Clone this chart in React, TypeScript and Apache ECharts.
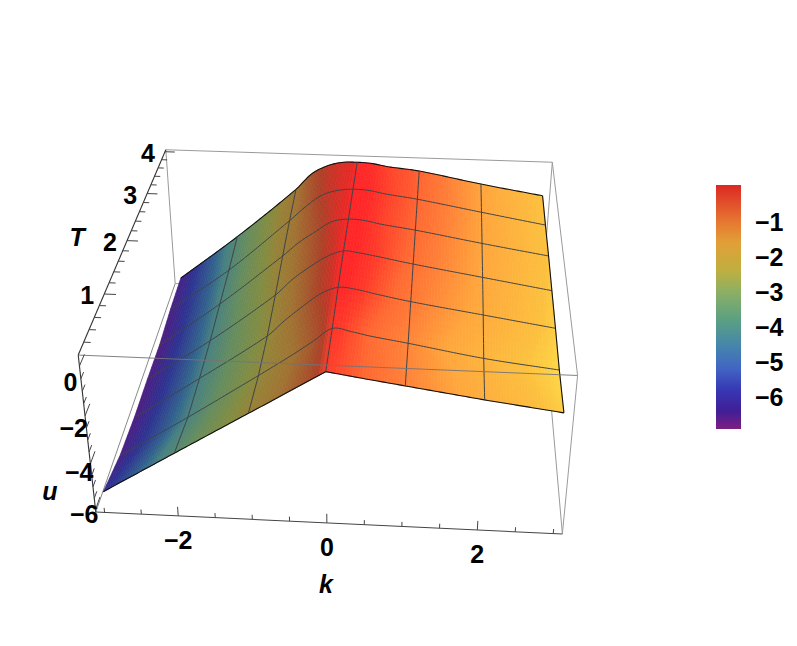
import React, { useEffect, useRef } from "react";
import * as echarts from "echarts";

// ---- data ----
const kGrid = [-3, -2, -1, -0.75, -0.5, -0.25, 0, 0.25, 0.5, 1, 2, 3];
const tGrid = [0.03, 0.7, 1.36, 2.02, 2.68, 3.34, 4];
const uT0 = [-5.28, -3.48, -1.69, -1.25, -0.8, -0.35, 0.1, -0.01, -0.12, -0.33, -0.75, -1.13];
const uT1 = [-5.7, -3.86, -1.94, -1.45, -0.95, -0.42, 0.12, 0.02, -0.13, -0.36, -0.85, -1.2];
const uT2 = [-5.84, -3.93, -1.94, -1.25, -0.64, -0.08, 0.23, 0.17, 0.02, -0.25, -0.69, -1.13];
const uT3 = [-5.84, -3.91, -1.74, -1.04, -0.48, 0.0, 0.28, 0.21, 0.09, -0.17, -0.63, -1.09];
const uT4 = [-5.89, -3.8, -1.48, -0.85, -0.35, 0.12, 0.26, 0.22, 0.08, -0.12, -0.6, -1.05];
const uT5 = [-5.74, -3.7, -1.27, -0.62, -0.08, 0.18, 0.26, 0.23, 0.1, -0.09, -0.58, -1.06];
const uT6 = [-5.69, -3.51, -1.13, -0.4, 0.0, 0.2, 0.23, 0.19, 0.07, -0.08, -0.59, -1.04];
const uRows = [uT0, uT1, uT2, uT3, uT4, uT5, uT6];
const meshK = [-2, -1, 0, 1, 2];
const kTicks = [-3, -2.5, -2, -1.5, -1, -0.5, 0, 0.5, 1, 1.5, 2, 2.5, 3];
const kLabels = [-2, 0, 2];
const tTicks = [0.2, 0.4, 0.6, 0.8, 1, 1.2, 1.4, 1.6, 1.8, 2, 2.2, 2.4, 2.6, 2.8, 3, 3.2, 3.4, 3.6, 3.8, 4];
const tLabels = [1, 2, 3, 4];
const uTicks = [0, -0.5, -1, -1.5, -2, -2.5, -3, -3.5, -4, -4.5, -5, -5.5, -6];
const uLabels = [0, -2, -4, -6];
const legendMajor = [-6, -5, -4, -3, -2, -1];
const legendMinor = [-6.8, -6.6, -6.4, -6.2, -6, -5.8, -5.6, -5.4, -5.2, -5, -4.8, -4.6, -4.4, -4.2, -4, -3.8, -3.6, -3.4, -3.2, -3, -2.8, -2.6, -2.4, -2.2, -2, -1.8, -1.6, -1.4, -1.2, -1, -0.8, -0.6, -0.4, -0.2, 0];
const legendStops: [number, string][] = [[0.06, "#dc2823"], [-1, "#e67832"], [-1.6, "#e1a037"], [-2.4, "#beaf41"], [-3, "#8caf64"], [-3.8, "#5aa082"], [-4.5, "#4687aa"], [-5.2, "#4164c3"], [-5.8, "#3737b4"], [-6.4, "#411e96"], [-6.91, "#7d1e82"]];
// surface colour ramps (u, r, g, b)
const leftRamp = [[-5.9, 80, 26, 128], [-5.1, 45, 50, 145], [-4.3, 50, 100, 140], [-3.9, 70, 128, 130], [-3.1, 100, 140, 95], [-2.2, 130, 140, 65], [-1.7, 150, 130, 55], [-1, 160, 115, 50], [-0.5, 165, 90, 45], [-0.1, 172, 65, 40], [0.15, 205, 50, 38], [0.28, 235, 40, 38]];
const rightRamp = [[-1.3, 255, 222, 72], [-1.2, 255, 215, 70], [-1.04, 252, 192, 62], [-0.6, 255, 165, 60], [-0.3, 255, 125, 55], [-0.12, 255, 105, 50], [0.1, 255, 60, 42], [0.25, 255, 38, 40], [0.3, 255, 38, 40]];

const box = { kMin: -3.12, kMax: 3.12, tMin: 0, tMax: 4.05, uMin: -6.1, uMax: 0.43 };
const corners: [number, number, number, number, number][] = [
  [box.kMin, box.tMin, box.uMax, 78, 355.5], [box.kMax, box.tMin, box.uMax, 578, 375],
  [box.kMin, box.tMax, box.uMax, 166, 150], [box.kMax, box.tMax, box.uMax, 552, 162],
  [box.kMin, box.tMin, box.uMin, 96, 512], [box.kMax, box.tMin, box.uMin, 562, 534],
  [box.kMin, box.tMax, box.uMin, 175, 283], [box.kMax, box.tMax, box.uMin, 542, 298],
];

// ---- camera fitted to the box's corners ----
const norm = (k: number, T: number, u: number) => [k / 3, T / 2 - 1, (u + 3) / 3];
function solve(A: number[][], b: number[]) {
  const m = A.length;
  const M = A.map((r, i) => [...r, b[i]]);
  for (let i = 0; i < m; i++) {
    let p = i;
    for (let j = i; j < m; j++) if (Math.abs(M[j][i]) > Math.abs(M[p][i])) p = j;
    [M[i], M[p]] = [M[p], M[i]];
    for (let j = 0; j < m; j++) if (j !== i) {
      const f = M[j][i] / M[i][i];
      for (let c = i; c <= m; c++) M[j][c] -= f * M[i][c];
    }
  }
  return M.map((r, i) => r[m] / r[i]);
}
const camera = (() => {
  const rows: number[][] = [], rhs: number[] = [];
  for (const [k, T, u, x, y] of corners) {
    const [a, b, c] = norm(k, T, u);
    const X = x / 400 - 1, Y = y / 300 - 1;
    rows.push([a, b, c, 1, 0, 0, 0, 0, -X * a, -X * b, -X * c]); rhs.push(X);
    rows.push([0, 0, 0, 0, a, b, c, 1, -Y * a, -Y * b, -Y * c]); rhs.push(Y);
  }
  const ATA = Array.from({ length: 11 }, (_, i) => Array.from({ length: 11 }, (_, j) => rows.reduce((s, r) => s + r[i] * r[j], 0)));
  const ATb = Array.from({ length: 11 }, (_, i) => rows.reduce((s, r, q) => s + r[i] * rhs[q], 0));
  return solve(ATA, ATb);
})();
const project = (k: number, T: number, u: number): number[] => {
  const h = camera;
  const [a, b, c] = norm(k, T, u);
  const w = h[8] * a + h[9] * b + h[10] * c + 1;
  return [((h[0] * a + h[1] * b + h[2] * c + h[3]) / w + 1) * 400, ((h[4] * a + h[5] * b + h[6] * c + h[7]) / w + 1) * 300];
};

// ---- lookups in the table ----
const seg = (g: number[], v: number) => {
  let i = 0;
  while (i < g.length - 2 && v > g[i + 1]) i++;
  return [i, (v - g[i]) / (g[i + 1] - g[i])];
};
// Row 0 has a real kink at k = 0, so it is read straight; the other rows are drawn as smooth curves through their values.
const rowAt = (j: number, i: number, s: number) => {
  const r = uRows[j];
  if (j === 0) return r[i] * (1 - s) + r[i + 1] * s;
  const h = kGrid[i + 1] - kGrid[i];
  const a = i === 0 ? (r[1] - r[0]) / (kGrid[1] - kGrid[0]) : (r[i + 1] - r[i - 1]) / (kGrid[i + 1] - kGrid[i - 1]);
  const n = kGrid.length - 1;
  const b = i + 1 === n ? (r[n] - r[n - 1]) / (kGrid[n] - kGrid[n - 1]) : (r[i + 2] - r[i]) / (kGrid[i + 2] - kGrid[i]);
  const s2 = s * s, s3 = s2 * s;
  return (2 * s3 - 3 * s2 + 1) * r[i] + (s3 - 2 * s2 + s) * h * a + (-2 * s3 + 3 * s2) * r[i + 1] + (s3 - s2) * h * b;
};
const uAt = (k: number, T: number) => {
  const [i, s] = seg(kGrid, k);
  const [j, r] = seg(tGrid, T);
  return rowAt(j, i, s) * (1 - r) + rowAt(j + 1, i, s) * r;
};
const ramp = (tbl: number[][], u: number) => {
  if (u <= tbl[0][0]) return tbl[0].slice(1);
  for (let i = 0; i < tbl.length - 1; i++) {
    if (u <= tbl[i + 1][0]) {
      const f = (u - tbl[i][0]) / (tbl[i + 1][0] - tbl[i][0]);
      return [1, 2, 3].map((c) => tbl[i][c] * (1 - f) + tbl[i + 1][c] * f);
    }
  }
  return tbl[tbl.length - 1].slice(1);
};
const colourAt = (k: number, u: number) => {
  const x = Math.min(1, Math.max(0, (k + 0.12) / 0.17));
  const w = x * x * (3 - 2 * x);
  const l = ramp(leftRamp, u), r = ramp(rightRamp, u);
  return `rgb(${[0, 1, 2].map((c) => Math.round(l[c] * (1 - w) + r[c] * w)).join(",")})`;
};
const fineK: number[] = [];
kGrid.slice(0, -1).forEach((k, i) => {
  const d = kGrid[i + 1] - k;
  const n = Math.max(1, Math.round(d / 0.04));
  for (let q = 0; q < n; q++) fineK.push(k + (d * q) / n);
});
fineK.push(kGrid[kGrid.length - 1]);
const fineT: number[] = [];
tGrid.slice(0, -1).forEach((t, i) => {
  for (let q = 0; q < 6; q++) fineT.push(t + ((tGrid[i + 1] - t) * q) / 6);
});
fineT.push(tGrid[tGrid.length - 1]);

type P3 = [number, number, number];
const cells: { pts: P3[]; fill: string }[] = [];
for (let j = fineT.length - 2; j >= 0; j--) {
  for (let i = 0; i < fineK.length - 1; i++) {
    const k0 = fineK[i], k1 = fineK[i + 1], t0 = fineT[j], t1 = fineT[j + 1];
    cells.push({
      pts: [[k0, t0, uAt(k0, t0)], [k1, t0, uAt(k1, t0)], [k1, t1, uAt(k1, t1)], [k0, t1, uAt(k0, t1)]],
      fill: colourAt((k0 + k1) / 2, uAt((k0 + k1) / 2, (t0 + t1) / 2)),
    });
  }
}
type Stroke = { pts: P3[]; color: string; width: number };
const backLines: Stroke[] = [
  { pts: [[box.kMin, box.tMax, box.uMax], [box.kMax, box.tMax, box.uMax]], color: "#9a9a9a", width: 1 },
  { pts: [[box.kMin, box.tMax, box.uMax], [box.kMin, box.tMax, box.uMin]], color: "#9a9a9a", width: 1 },
  { pts: [[box.kMin, box.tMax, box.uMin], [box.kMax, box.tMax, box.uMin]], color: "#9a9a9a", width: 1 },
  { pts: [[box.kMax, box.tMax, box.uMax], [box.kMax, box.tMax, box.uMin]], color: "#9a9a9a", width: 1 },
  { pts: [[box.kMin, box.tMin, box.uMin], [box.kMin, box.tMax, box.uMin]], color: "#8a8a8a", width: 1 },
  { pts: [[box.kMax, box.tMin, box.uMin], [box.kMax, box.tMax, box.uMin]], color: "#9a9a9a", width: 1 },
];
const meshLines: Stroke[] = [];
tGrid.forEach((t, j) => {
  const edge = j === 0 || j === tGrid.length - 1;
  meshLines.push({ pts: fineK.map((k) => [k, t, uAt(k, t)] as P3), color: edge ? "#111" : "#404548", width: edge ? 1.1 : 1 });
});
meshK.forEach((k) => meshLines.push({ pts: fineT.map((t) => [k, t, uAt(k, t)] as P3), color: "#404548", width: 1 }));
meshLines.push({ pts: fineT.map((t) => [3, t, uAt(3, t)] as P3), color: "#111", width: 1.1 });
const frontLines: Stroke[] = [
  { pts: [[box.kMin, box.tMin, box.uMax], [box.kMax, box.tMin, box.uMax]], color: "rgba(115,115,120,0.9)", width: 1 },
  { pts: [[box.kMax, box.tMin, box.uMax], [box.kMax, box.tMax, box.uMax]], color: "#9a9a9a", width: 1 },
  { pts: [[box.kMax, box.tMin, box.uMax], [box.kMax, box.tMin, box.uMin]], color: "#9a9a9a", width: 1 },
  { pts: [[box.kMin, box.tMin, box.uMax], [box.kMin, box.tMax, box.uMax]], color: "#333", width: 1.1 },
  { pts: [[box.kMin, box.tMin, box.uMax], [box.kMin, box.tMin, box.uMin]], color: "#333", width: 1.1 },
  { pts: [[box.kMin, box.tMin, box.uMin], [box.kMax, box.tMin, box.uMin]], color: "#444", width: 1.1 },
];
const tick = (pts: P3[]): Stroke => ({ pts, color: "#444", width: 1 });
kTicks.forEach((k) => frontLines.push(tick([[k, box.tMin, box.uMin], [k, box.tMin, box.uMin + (kLabels.includes(k) ? 0.4 : 0.2)]])));
tTicks.forEach((t) => frontLines.push(tick([[box.kMin, t, box.uMax], [box.kMin + (tLabels.includes(t) ? 0.16 : 0.09), t, box.uMax]])));
uTicks.forEach((u) => frontLines.push(tick([[box.kMin, box.tMin, u], [box.kMin, box.tMin + (uLabels.includes(u) ? 0.18 : 0.1), u]])));

const minus = (v: number) => (v < 0 ? "\u2212" + Math.abs(v) : String(v));
type Lab = { text: string; x: number; y: number; align: string; italic?: boolean };
const labels: Lab[] = [];
kLabels.forEach((k) => { const p = project(k, box.tMin, box.uMin); labels.push({ text: minus(k), x: p[0], y: p[1] + 24, align: "center" }); });
tLabels.forEach((t) => { const p = project(box.kMin, t, box.uMax); labels.push({ text: String(t), x: p[0] - 17, y: p[1] + 1, align: "center" }); });
uLabels.forEach((u) => { const p = project(box.kMin, box.tMin, u); labels.push({ text: minus(u), x: p[0] + (u === 0 ? -2 : 3), y: p[1] + 16 + u * 2, align: "right" }); });
const kTitle = project(0, box.tMin, box.uMin);
labels.push({ text: "k", x: kTitle[0] - 1, y: kTitle[1] + 61, align: "center", italic: true });
const tTitle = project(box.kMin, 2, box.uMax);
labels.push({ text: "T", x: tTitle[0] - 50, y: tTitle[1] - 4, align: "center", italic: true });
const uTitle = project(box.kMin, box.tMin, -5);
labels.push({ text: "u", x: uTitle[0] - 43, y: uTitle[1] + 4, align: "center", italic: true });

const FONT = '"Liberation Sans", Arial, sans-serif';
const FONT_SIZE = 25;

function strokeSeries(name: string, list: Stroke[], z: number) {
  return {
    type: "custom", name, xAxisIndex: 0, yAxisIndex: 0, z, clip: false, silent: true,
    data: list.map((_, i) => [i, i]),
    renderItem: (p: any, api: any) => {
      const s = list[p.dataIndex];
      return {
        type: "polyline",
        shape: { points: s.pts.map((q) => api.coord(project(q[0], q[1], q[2]))) },
        style: { stroke: s.color, lineWidth: s.width, fill: "none" },
      };
    },
  };
}

export default function App() {
  const ref = useRef<HTMLDivElement>(null);
  useEffect(() => {
    document.body.style.margin = "0";
    const chart = echarts.init(ref.current!, undefined, { renderer: "svg" });
    chart.setOption({
      animation: false,
      backgroundColor: "#fff",
      grid: [
        { left: 0, top: 0, width: 797, height: 646 },
        { left: 716, top: 185, width: 25, height: 244 },
      ],
      xAxis: [
        { type: "value", gridIndex: 0, min: 0, max: 797, show: false },
        { type: "value", gridIndex: 1, min: 0, max: 1, show: false },
      ],
      yAxis: [
        { type: "value", gridIndex: 0, min: 0, max: 646, inverse: true, show: false },
        {
          type: "value", gridIndex: 1, min: -6.91, max: 0.06, position: "right",
          axisLine: { show: false }, splitLine: { show: false },
          axisTick: { show: true, length: 5, lineStyle: { color: "#c8c8c8", width: 1 }, customValues: legendMinor },
          axisLabel: {
            customValues: legendMajor, margin: 14, color: "#000", fontFamily: FONT, fontWeight: "bold", fontSize: FONT_SIZE,
            formatter: (v: number) => minus(v),
          },
        },
      ],
      series: [
        strokeSeries("box-back", backLines, 1),
        {
          type: "custom", name: "surface", xAxisIndex: 0, yAxisIndex: 0, z: 2, clip: false, silent: true,
          data: cells.map((_, i) => [i, i]),
          renderItem: (p: any, api: any) => {
            const c = cells[p.dataIndex];
            return {
              type: "polygon",
              shape: { points: c.pts.map((q) => api.coord(project(q[0], q[1], q[2]))) },
              style: { fill: c.fill, stroke: c.fill, lineWidth: 0.7 },
            };
          },
        },
        strokeSeries("mesh", meshLines, 3),
        strokeSeries("box-front", frontLines, 4),
        {
          type: "custom", name: "labels", xAxisIndex: 0, yAxisIndex: 0, z: 5, clip: false, silent: true,
          data: labels.map((_, i) => [i, i]),
          renderItem: (p: any, api: any) => {
            const l = labels[p.dataIndex];
            const c = api.coord([l.x, l.y]);
            return {
              type: "text", x: c[0], y: c[1],
              style: {
                text: l.text, fill: "#000", align: l.align, verticalAlign: "middle",
                font: `${l.italic ? "italic " : ""}bold ${FONT_SIZE}px ${FONT}`,
              },
            };
          },
        },
        {
          type: "custom", name: "legend", xAxisIndex: 1, yAxisIndex: 1, z: 2, clip: false, silent: true,
          data: [[0, 0.06]],
          renderItem: (_: any, api: any) => {
            const a = api.coord([0, 0.06]), b = api.coord([1, -6.91]);
            const span = 0.06 + 6.91;
            return {
              type: "rect",
              shape: { x: a[0], y: a[1], width: b[0] - a[0], height: b[1] - a[1] },
              style: {
                fill: new echarts.graphic.LinearGradient(0, 0, 0, 1,
                  legendStops.map(([v, color]) => ({ offset: (0.06 - v) / span, color }))),
              },
            };
          },
        },
      ],
    });
    return () => chart.dispose();
  }, []);
  return <div ref={ref} style={{ position: "fixed", left: 0, top: 0, width: 797, height: 646 }} />;
}
